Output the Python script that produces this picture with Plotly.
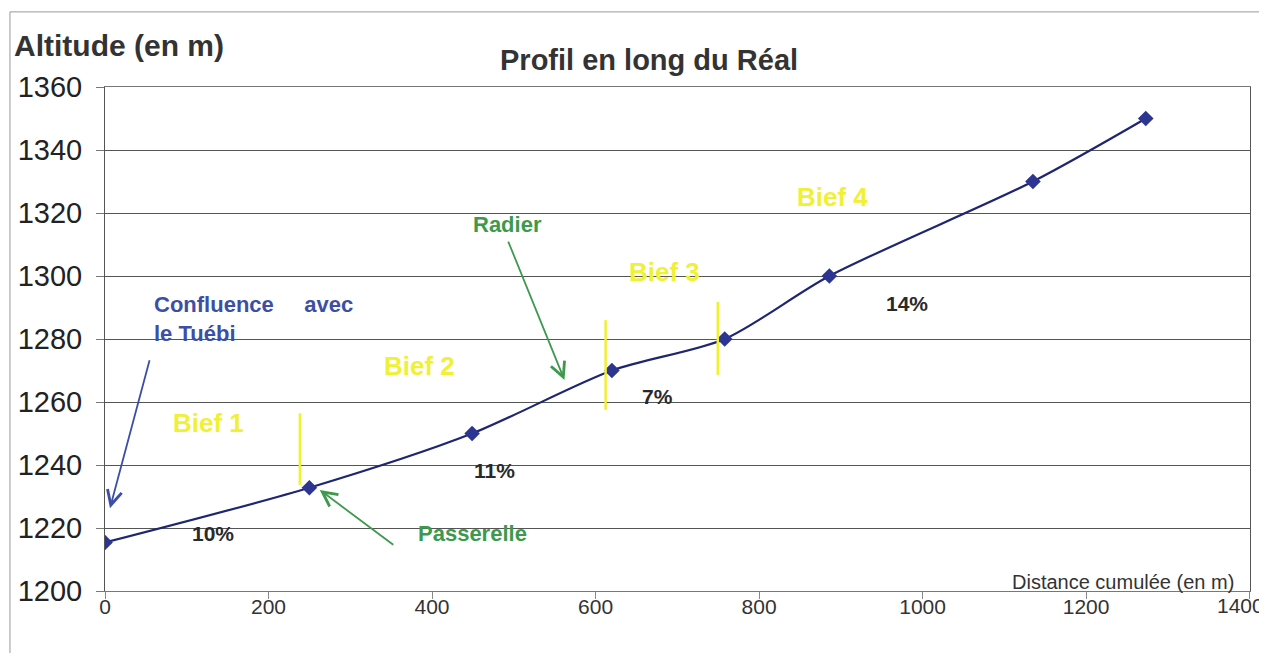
import plotly.graph_objects as go

# Data
distance = [0, 250, 449, 620, 758, 886, 1135, 1273]
altitude = [1215.4, 1232.8, 1250, 1270, 1280, 1300, 1330, 1350]

y_ticks = [1200, 1220, 1240, 1260, 1280, 1300, 1320, 1340, 1360]
x_ticks = [0, 200, 400, 600, 800, 1000, 1200, 1400]
x_tick_text = ["0", "200", "400", "600", "800", "1000", "1200", ""]
last_x_label = "1400"

bief_labels = ["Bief 1", "Bief 2", "Bief 3", "Bief 4"]
bief_x = [126, 385, 684, 890]
bief_y = [1253.3, 1271.4, 1301.4, 1325.2]

slope_labels = ["10%", "11%", "7%", "14%"]
slope_x = [132, 477, 676, 981]
slope_y = [1218.1, 1238.1, 1261.7, 1291.3]

limit_x = [238.3, 612.3, 749.5]
limit_y0 = [1233.7, 1257.5, 1268.6]
limit_y1 = [1256.4, 1286, 1291.8]

FONT = "Liberation Sans, Arial, sans-serif"
YELLOW = "#f0f035"
GREEN = "#3d9a4d"
BLUE = "#3d4fa5"
DARK = "#2a2a2a"

fig = go.Figure()
fig.add_trace(go.Scatter(
    x=distance, y=altitude, mode="lines+markers",
    line=dict(color="#1f2670", width=2.2, shape="spline", smoothing=0.8),
    marker=dict(symbol="diamond", size=12, color="#2c3590"),
    showlegend=False, hoverinfo="x+y",
))

shapes = []
for x, y0, y1 in zip(limit_x, limit_y0, limit_y1):
    shapes.append(dict(type="line", xref="x", yref="y", x0=x, x1=x, y0=y0, y1=y1,
                       line=dict(color=YELLOW, width=2.5)))
# outer chart frame (top and left edges)
shapes.append(dict(type="line", xref="paper", yref="paper", x0=-0.083, x1=1.02,
                   y0=1.149, y1=1.149, line=dict(color="#999999", width=1)))
shapes.append(dict(type="line", xref="paper", yref="paper", x0=-0.083, x1=-0.083,
                   y0=-0.13, y1=1.149, line=dict(color="#999999", width=1)))

annotations = []
for t, x, y in zip(bief_labels, bief_x, bief_y):
    annotations.append(dict(x=x, y=y, xref="x", yref="y", text=f"<b>{t}</b>",
                            showarrow=False, font=dict(family=FONT, size=26, color=YELLOW)))
for t, x, y in zip(slope_labels, slope_x, slope_y):
    annotations.append(dict(x=x, y=y, xref="x", yref="y", text=f"<b>{t}</b>",
                            showarrow=False, font=dict(family=FONT, size=21, color=DARK)))

annotations += [
    dict(x=57.4, y=1286.3, xref="x", yref="y", xanchor="left", yanchor="middle",
         text="<b>Confluence     avec<br>le Tuébi</b>", align="left",
         showarrow=False, font=dict(family=FONT, size=22, color=BLUE)),
    dict(x=449.7, y=1218.4, xref="x", yref="y", text="<b>Passerelle</b>",
         showarrow=False, font=dict(family=FONT, size=22, color=GREEN)),
    dict(x=492.5, y=1316.2, xref="x", yref="y", text="<b>Radier</b>",
         showarrow=False, font=dict(family=FONT, size=22, color=GREEN)),
    # arrows
    dict(x=6.1, y=1226.3, ax=55, ay=1273.7, xref="x", yref="y", axref="x", ayref="y",
         text="", showarrow=True, arrowhead=5, arrowsize=1.6, arrowwidth=1.8, arrowcolor=BLUE),
    dict(x=262.7, y=1232.1, ax=354.4, ay=1214.3, xref="x", yref="y", axref="x", ayref="y",
         text="", showarrow=True, arrowhead=5, arrowsize=1.6, arrowwidth=1.8, arrowcolor=GREEN),
    dict(x=562, y=1267, ax=492.5, ay=1311.4, xref="x", yref="y", axref="x", ayref="y",
         text="", showarrow=True, arrowhead=5, arrowsize=1.6, arrowwidth=1.8, arrowcolor=GREEN),
    # titles
    dict(x=-0.0812, y=1.083, xref="paper", yref="paper", xanchor="left", yanchor="middle",
         text="<b>Altitude (en m)</b>", showarrow=False,
         font=dict(family=FONT, size=30, color="#333333")),
    dict(x=0.4755, y=1.054, xref="paper", yref="paper", xanchor="center", yanchor="middle",
         text="<b>Profil en long du Réal</b>", showarrow=False,
         font=dict(family=FONT, size=29, color="#333333")),
    dict(x=1383, y=1203, xref="x", yref="y", xanchor="right", yanchor="middle",
         text="Distance cumulée (en m)", showarrow=False,
         font=dict(family=FONT, size=20, color="#333333")),
    # last x tick label, nudged left so it stays inside the window
    dict(x=0.992, y=-0.028, xref="paper", yref="paper", xanchor="center", yanchor="middle",
         text=last_x_label, showarrow=False,
         font=dict(family=FONT, size=21, color="#333333")),
]

fig.update_layout(
    width=1267, height=653,
    margin=dict(l=97, r=25, t=79, b=70, autoexpand=False),
    paper_bgcolor="white", plot_bgcolor="white",
    xaxis=dict(range=[0, 1400.5], tickvals=x_ticks, ticktext=x_tick_text,
               showgrid=False, zeroline=False,
               ticks="outside", ticklen=7, tickcolor="#888888",
               tickfont=dict(family=FONT, size=21, color="#333333"),
               ticklabelstandoff=-10,
               showline=True, linecolor="#777777", linewidth=1, mirror=True),
    yaxis=dict(range=[1200, 1360], tickvals=y_ticks, showgrid=True, gridcolor="#555555",
               gridwidth=1, zeroline=False, ticks="outside", ticklen=8, tickcolor="#777777",
               tickfont=dict(family=FONT, size=29, color="#222222"),
               ticklabelstandoff=8,
               showline=True, linecolor="#555555", linewidth=1, mirror=True),
    shapes=shapes, annotations=annotations,
)

fig.write_html("out.html")
